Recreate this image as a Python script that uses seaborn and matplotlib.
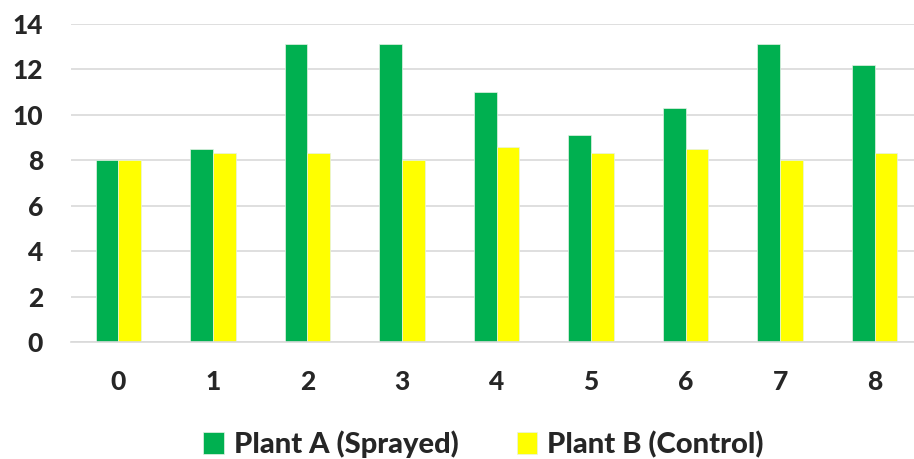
import pandas as pd
import seaborn as sns
import matplotlib
matplotlib.use("Agg")
import matplotlib.pyplot as plt

days = [0, 1, 2, 3, 4, 5, 6, 7, 8]
plant_a = [8.0, 8.5, 13.1, 13.1, 11.0, 9.1, 10.3, 13.1, 12.2]
plant_b = [8.0, 8.3, 8.3, 8.0, 8.6, 8.3, 8.5, 8.0, 8.3]
series = ["Plant A (Sprayed)", "Plant B (Control)"]
colors = ["#00B050", "#FFFF00"]

df = pd.DataFrame({
    "Day": days * 2,
    "Value": plant_a + plant_b,
    "Series": [series[0]] * len(days) + [series[1]] * len(days),
})

sns.set_style("white")
plt.rcParams["font.family"] = ["Lato", "DejaVu Sans"]

fig = plt.figure(figsize=(9.14, 4.59), dpi=100)
ax = fig.add_axes([71 / 914, (459 - 342) / 459, 851 / 914, (342 - 24) / 459])

sns.barplot(data=df, x="Day", y="Value", hue="Series", palette=colors,
            width=0.48, gap=0, ax=ax, edgecolor="#e6f2e6", linewidth=0.5,
            saturation=1)

ax.set_ylim(0, 14)
ax.set_yticks(range(0, 15, 2))
ax.yaxis.grid(True, color="#d9d9d9", linewidth=1.2)
ax.set_axisbelow(True)
for s in ["top", "right", "left"]:
    ax.spines[s].set_visible(False)
ax.spines["bottom"].set_color("#d9d9d9")
ax.spines["bottom"].set_linewidth(1.2)
ax.set_xlabel("")
ax.set_ylabel("")
ax.tick_params(axis="y", length=0, pad=20, labelsize=19)
ax.tick_params(axis="x", length=0, pad=20, labelsize=19)
for t in ax.get_xticklabels() + ax.get_yticklabels():
    t.set_fontweight("black")

ax.legend(loc="center", bbox_to_anchor=(0.529, 0.032),
          bbox_transform=fig.transFigure, ncol=2,
          frameon=False, prop={"weight": "black", "size": 21},
          handlelength=0.7, handleheight=0.8, handletextpad=0.35,
          columnspacing=2.0)

fig.savefig("out.png", dpi=100)
